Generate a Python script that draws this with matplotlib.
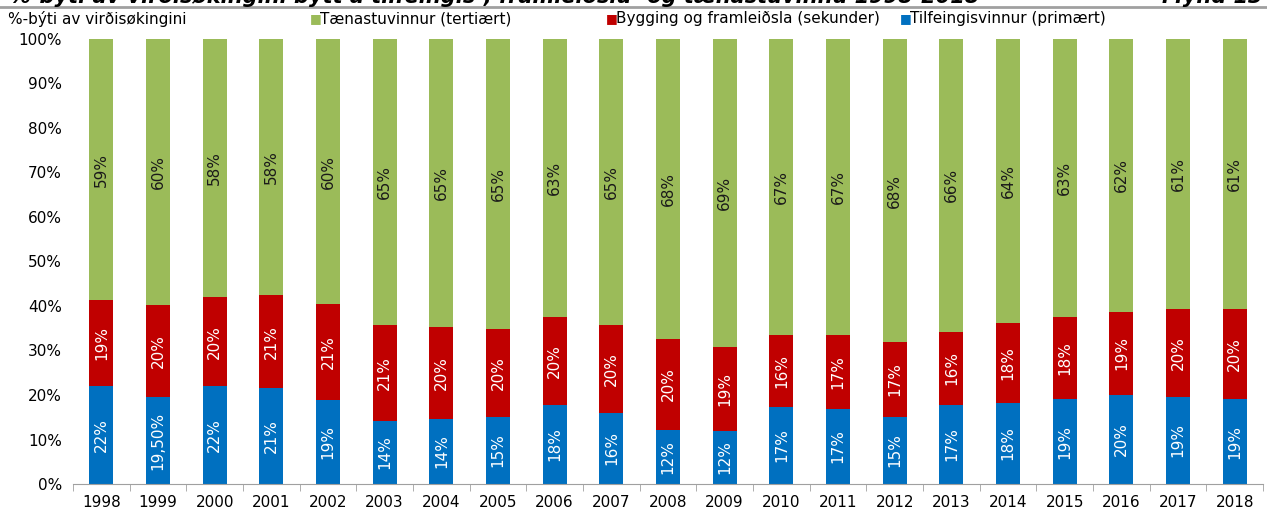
import matplotlib
matplotlib.use("Agg")
import matplotlib.pyplot as plt
import numpy as np

years = [str(y) for y in range(1998, 2019)]
# shares in %
primary = [22, 19.5, 22, 21.5, 18.9, 14.2, 14.6, 15.1, 17.8, 16, 12.1, 11.9,
           17.3, 16.9, 15.1, 17.8, 18.2, 19.1, 20, 19.6, 19.1]
secondary = [19.3, 20.7, 20, 21, 21.5, 21.5, 20.7, 19.7, 19.7, 19.7, 20.5, 18.9,
             16.2, 16.6, 16.8, 16.4, 18, 18.4, 18.7, 19.7, 20.2]
tertiary = [100 - p - s for p, s in zip(primary, secondary)]

primary_lbl = ["22%", "19,50%", "22%", "21%", "19%", "14%", "14%", "15%", "18%", "16%", "12%",
               "12%", "17%", "17%", "15%", "17%", "18%", "19%", "20%", "19%", "19%"]
secondary_lbl = ["19%", "20%", "20%", "21%", "21%", "21%", "20%", "20%", "20%", "20%", "20%",
                 "19%", "16%", "17%", "17%", "16%", "18%", "18%", "19%", "20%", "20%"]
tertiary_lbl = ["59%", "60%", "58%", "58%", "60%", "65%", "65%", "65%", "63%", "65%", "68%",
                "69%", "67%", "67%", "68%", "66%", "64%", "63%", "62%", "61%", "61%"]

series = [
    ("Tilfeingisvinnur (primært)", primary, primary_lbl, "#0070C0"),
    ("Bygging og framleiðsla (sekunder)", secondary, secondary_lbl, "#C00000"),
    ("Tænastuvinnur (tertiært)", tertiary, tertiary_lbl, "#9BBB59"),
]

W, H = 1267, 513
fig = plt.figure(figsize=(W / 100, H / 100), dpi=100)
ax = fig.add_axes([73 / W, 29 / H, 1190 / W, 445 / H])

x = np.arange(len(years))
bottom = np.zeros(len(years))
for name, vals, lbls, col in series:
    vals = np.array(vals, dtype=float)
    ax.bar(x, vals, 0.42, bottom=bottom, color=col, label=name)
    for xi, b, v, t in zip(x, bottom, vals, lbls):
        ax.text(xi, b + v / 2, t, rotation=90, ha="center", va="center",
                color="white" if col != "#9BBB59" else "#1a1a1a", fontsize=11)
    bottom += vals

ax.set_xlim(-0.5, len(years) - 0.5)
ax.set_ylim(0, 100)
ax.set_yticks(range(0, 101, 10))
ax.set_yticklabels([f"{v}%" for v in range(0, 101, 10)], fontsize=11)
ax.set_xticks(x)
ax.set_xticklabels(years, fontsize=11)
ax.set_xticks(np.arange(-0.5, len(years)), minor=True)
ax.tick_params(axis="x", which="major", length=0, pad=8)
ax.tick_params(axis="x", which="minor", length=5, color="#a0a0a0")
ax.tick_params(axis="y", length=0, pad=8)
for s in ["top", "right", "left"]:
    ax.spines[s].set_visible(False)
ax.spines["bottom"].set_color("#a0a0a0")

# legend row at the top
fig.text(8 / W, 1 - 19 / H, "%-býti av virðisøkingini", fontsize=11, va="center")
leg_items = [("Tænastuvinnur (tertiært)", "#9BBB59", 310),
             ("Bygging og framleiðsla (sekunder)", "#C00000", 606),
             ("Tilfeingisvinnur (primært)", "#0070C0", 900)]
for name, col, px in leg_items:
    fig.text(px / W, 1 - 19 / H, "\u25A0", color=col, fontsize=9, va="center")
    fig.text((px + 10) / W, 1 - 19 / H, name, fontsize=11, va="center")

# title, cut off at the top edge like in the source
fig.text(10 / W, 1 - 3 / H, "%-býti av virðisøkingini býtt á tilfeingis-, framleiðslu- og tænastuvinnu 1998-2018",
         fontsize=15, fontweight="bold", fontstyle="italic", va="baseline")
fig.text(1262 / W, 1 - 3 / H, "Mynd 13", fontsize=15, fontweight="bold", fontstyle="italic",
         va="baseline", ha="right")
fig.add_artist(plt.Line2D([0, 1], [1 - 6.5 / H, 1 - 6.5 / H], color="#a0a0a0", lw=2,
                          transform=fig.transFigure))

fig.savefig("out.png", dpi=100)
